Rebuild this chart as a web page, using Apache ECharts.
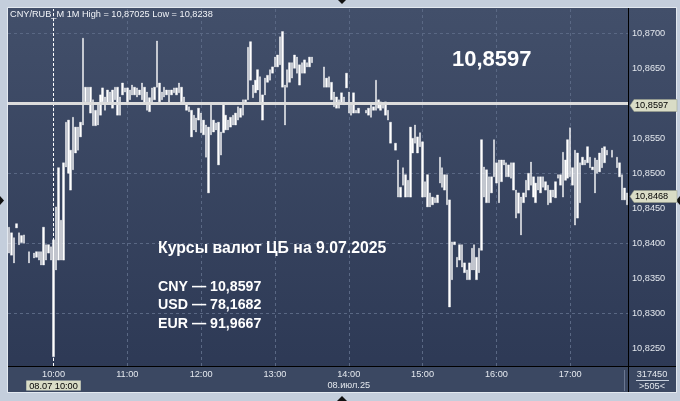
<!DOCTYPE html>
<html><head><meta charset="utf-8">
<script src="https://cdn.jsdelivr.net/npm/echarts@6/dist/echarts.min.js"></script>
<style>html,body{margin:0;padding:0;background:#c4cedc}#c{width:680px;height:401px}</style>
</head><body><div id="c"></div><script>
// ---- data ----
const startMinute = 9 * 60 + 24;   // first bar 09:24
const stepMinutes = 2;
const barCount = 252;
const highs = [
10.8423,10.8415,10.8408,10.8428,10.8415,10.8411,10.8412,null,10.8388,null,
10.8386,10.8388,10.8388,10.8388,10.8423,10.8398,10.8398,10.8395,10.8405,10.8452,
10.8508,10.8433,10.8515,10.8573,10.8576,10.8533,10.8580,10.8566,10.8566,10.8573,
10.8693,10.8623,10.8623,10.8623,10.8605,10.8590,10.8600,10.8612,10.8622,10.8609,
10.8619,10.8616,10.8619,10.8623,10.8623,10.8609,10.8629,10.8622,10.8622,10.8619,
10.8626,10.8623,10.8622,10.8619,10.8629,10.8623,10.8616,10.8608,10.8622,10.8623,
10.8689,10.8629,10.8616,10.8623,10.8619,10.8619,10.8619,10.8622,10.8622,10.8629,
10.8623,10.8609,10.8598,10.8595,10.8590,10.8583,10.8579,10.8593,10.8586,10.8576,
10.8569,10.8566,10.8600,10.8576,10.8572,10.8573,10.8559,10.8600,10.8583,10.8576,
10.8580,10.8583,10.8586,10.8595,10.8593,10.8605,10.8605,10.8680,10.8688,10.8626,
10.8633,10.8648,10.8638,10.8612,10.8636,10.8640,10.8648,10.8652,10.8666,10.8669,
10.8695,10.87025,10.8626,10.8648,10.8658,10.8658,10.8669,10.8666,10.8655,10.8658,
10.8662,10.8658,10.8666,10.8666,null,null,null,null,10.8652,10.8636,
10.8638,10.8630,10.8616,10.8609,10.8605,10.8615,10.8609,10.8643,10.8616,10.8600,
10.8615,10.8590,10.8593,null,null,10.8590,10.8593,10.8600,10.8595,10.8633,
10.8605,10.8602,10.8600,10.8602,10.8590,10.8573,null,10.8543,10.8519,10.8480,
10.8508,10.8498,10.8490,10.8566,10.8550,10.8569,10.8552,10.8558,10.8545,10.8488,
10.8498,10.8472,10.8466,10.8465,10.8469,10.8523,10.8508,10.8498,10.8498,10.8462,
10.8402,10.8402,10.8380,10.8398,10.8398,10.8372,10.8362,10.8372,10.8393,10.8398,
10.8380,10.8393,10.8548,10.8509,10.8505,10.8495,10.8495,10.8548,10.8515,10.8519,
10.8519,10.8519,10.8515,10.8512,10.8515,10.8515,10.8476,10.8472,10.8466,10.8472,
10.8490,10.8500,10.8516,10.8495,10.8486,10.8495,10.8495,10.8495,10.8488,10.8483,
10.8476,10.8476,10.8488,10.8498,10.8498,10.8530,10.8519,10.8548,10.8565,10.8508,
10.8533,10.8529,10.8515,10.8523,10.8519,10.8538,10.8523,10.8509,10.8522,10.8519,
10.8529,10.8536,10.8538,10.8533,null,10.8533,null,10.8523,10.8515,10.8498,
10.8479,10.8472
];
const lows = [
10.8386,10.8383,10.8372,10.8422,10.8398,10.8401,10.8400,null,10.8372,null,
10.8379,10.8380,10.8376,10.8369,10.8369,10.8376,10.8386,10.8376,10.8238,10.8362,
10.8376,10.8376,10.8376,10.8509,10.8500,10.8476,10.8505,10.8529,10.8533,10.8552,
10.8569,10.8602,10.8598,10.8586,10.8568,10.8568,10.8569,10.8583,10.8602,10.8590,
10.8600,10.8602,10.8593,10.8605,10.8583,10.8583,10.8612,10.8616,10.8602,10.8605,
10.8612,10.8612,10.8609,10.8612,10.8605,10.8600,10.8590,10.8588,10.8600,10.8605,
10.8623,10.8602,10.8605,10.8609,10.8612,10.8602,10.8612,10.8615,10.8612,10.8615,
10.8602,10.8600,10.8590,10.8588,10.8552,10.8562,10.8559,10.8576,10.8558,10.8555,
10.8523,10.8472,10.8555,10.8559,10.8562,10.8512,10.8526,10.8558,10.8562,10.8562,
10.8566,10.8569,10.8569,10.8576,10.8580,10.8583,10.8602,10.8605,10.8633,10.8608,
10.8615,10.8619,10.8602,10.8576,10.8612,10.8630,10.8633,10.8643,10.8652,10.8652,
10.8655,10.8623,10.8569,10.8623,10.8630,10.8636,10.8650,10.8643,10.8626,10.8643,
10.8643,10.8652,10.8652,10.8658,null,null,null,null,10.8623,10.8623,
10.8623,10.8605,10.8595,10.8593,10.8593,10.8600,10.8598,10.8622,10.8586,10.8583,
10.8586,10.8586,10.8586,null,null,10.8586,10.8583,10.8580,10.8590,10.8590,
10.8593,10.8590,10.8593,10.8583,10.8576,10.8543,null,10.8533,10.8466,10.8466,
10.8483,10.8466,10.8466,10.8466,10.8529,10.8543,10.8529,10.8538,10.8466,10.8466,
10.8452,10.8452,10.8455,10.8458,10.8458,10.8486,10.8480,10.8476,10.8455,10.8309,
10.8348,10.8398,10.8366,10.8376,10.8366,10.8358,10.8348,10.8348,10.8362,10.8362,
10.8348,10.8358,10.8390,10.8466,10.8458,10.8458,10.8472,10.8495,10.8486,10.8458,
10.8488,10.8512,10.8495,10.8495,10.8493,10.8476,10.8436,10.8443,10.8412,10.8458,
10.8466,10.8476,10.8483,10.8466,10.8458,10.8476,10.8472,10.8480,10.8476,10.8455,
10.8458,10.8466,10.8465,10.8493,10.8483,10.8466,10.8490,10.8493,10.8495,10.8483,
10.8426,10.8436,10.8458,10.8512,10.8512,10.8515,10.8508,10.8505,10.8472,10.8500,
10.8502,10.8508,10.8515,10.8526,null,10.8523,null,10.8508,10.8495,10.8462,
10.8462,10.8455
];
const hourLabels = ['10:00','11:00','12:00','13:00','14:00','15:00','16:00','17:00'];
const yTicks = [10.825,10.830,10.835,10.840,10.845,10.850,10.855,10.865,10.870];
const yMin = 10.82247, yMax = 10.87347;
const currentPrice = 10.8597;
const lastPrice = 10.8468;
const dayHigh = '10,87025', dayLow = '10,8238';
const cursorTime = '10:00', cursorLabel = '08.07 10:00', dateLabel = '08.июл.25';
const cbTitle = 'Курсы валют ЦБ на 9.07.2025';
const cbRates = [['CNY','10,8597'],['USD','78,1682'],['EUR','91,9667']];
const volumeText = '317450', countText = '>505<';

// ---- build ----
const categories = [];
for (let i = 0; i < barCount; i++) {
  const m = startMinute + i * stepMinutes;
  categories.push(String(Math.floor(m / 60)).padStart(2, '0') + ':' + String(m % 60).padStart(2, '0'));
}
const candles = highs.map((h, i) => h == null ? ['-','-','-','-'] : [lows[i], h, lows[i], h]);
const fmt = v => v.toFixed(4).replace('.', ',');
const FONT = '"Liberation Sans", Arial, sans-serif';
const small = 9.2;
const txtCol = '#e4e8ee';
const boxCol = '#d9dcc6';
const barCol = '#ffffff';

const chart = echarts.init(document.getElementById('c'), null, {renderer: 'canvas'});
const gridLines = [];
yTicks.forEach(v => gridLines.push({yAxis: v}));
hourLabels.forEach(h => gridLines.push({xAxis: h}));

chart.setOption({
  animation: false,
  backgroundColor: '#c4cedc',
  textStyle: {fontFamily: FONT},
  grid: {left: 8, right: 52, top: 9, bottom: 35},
  xAxis: {
    type: 'category', data: categories, boundaryGap: true,
    axisLine: {show: false}, axisTick: {show: false}, splitLine: {show: false},
    axisLabel: {
      interval: (i, v) => hourLabels.includes(v),
      color: txtCol, fontSize: small, margin: 3, lineHeight: 11,
      formatter: v => v === cursorTime ? v + '\n{box|' + cursorLabel + '}' :
                      v === '14:00' ? v + '\n' + dateLabel : v,
      rich: {box: {backgroundColor: boxCol, color: '#000', fontSize: small, padding: [1, 3, 0, 3], lineHeight: 11}}
    }
  },
  yAxis: {
    type: 'value', position: 'right', min: yMin, max: yMax, scale: true,
    axisLabel: {show: false}, splitLine: {show: false}, axisLine: {show: false}, axisTick: {show: false}
  },
  series: [
    {
      type: 'line', data: categories.map(() => '-'), silent: true, z: 1,
      markLine: {
        silent: true, z: 1, symbol: 'none', animation: false,
        lineStyle: {color: '#5a6884', type: [3, 3], width: 1},
        label: {show: false}, emphasis: {disabled: true},
        data: gridLines
      }
    },
    {
      type: 'candlestick', data: candles, barWidth: 2, z: 3,
      itemStyle: {color: barCol, color0: barCol, borderColor: barCol, borderColor0: barCol, borderWidth: 0.4},
      markLine: {
        silent: true, z: 6, symbol: 'none', animation: false,
        label: {show: false}, emphasis: {disabled: true},
        data: [
          {xAxis: cursorTime, lineStyle: {color: '#ffffff', type: [3, 2], width: 1}},
          {yAxis: currentPrice, lineStyle: {color: '#dcdcdc', type: 'solid', width: 3}}
        ]
      }
    }
  ]
});

// labels on the right price scale, placed through the chart's own y scale
const yPix = v => chart.convertToPixel({yAxisIndex: 0}, v);
const priceBox = v => {
  const y = Math.round(yPix(v)) + 0.5;
  return [
    {type: 'polygon', z: 30, shape: {points: [[630, y], [634, y - 6], [677, y - 6], [677, y + 6], [634, y + 6]]},
     style: {fill: boxCol, stroke: '#9aa08a', lineWidth: 0.5}},
    {type: 'text', z: 31, style: {x: 635, y: y, text: fmt(v), font: small + 'px ' + FONT, fill: '#000', textVerticalAlign: 'middle'}}
  ];
};
const tickTexts = yTicks.map(v => ({type: 'text', z: 20,
  style: {x: 632, y: yPix(v), text: fmt(v), font: small + 'px ' + FONT, fill: txtCol, textVerticalAlign: 'middle'}}));
const rateTexts = cbRates.map((r, i) => ({
  type: 'text', z: 20, style: {x: 158, y: 287 + i * 18.5, text: r[0] + ' — ' + r[1],
  font: 'bold 14.2px ' + FONT, fill: '#ffffff', textVerticalAlign: 'middle'}
}));

chart.setOption({
  graphic: [
    {type: 'rect', z: -10, shape: {x: 8, y: 8, width: 668, height: 384},
     style: {fill: new echarts.graphic.LinearGradient(0, 0, 0, 1, [{offset: 0, color: '#424f6a'}, {offset: 1, color: '#2c3854'}])}},
    {type: 'rect', z: -9, shape: {x: 8, y: 366, width: 668, height: 26}, style: {fill: '#3b4862'}},
    {type: 'rect', z: -8, shape: {x: 7.5, y: 7.5, width: 669, height: 385}, style: {fill: null, stroke: '#e3e9f0', lineWidth: 1}},
    {type: 'line', z: 10, shape: {x1: 628.5, y1: 8, x2: 628.5, y2: 392}, style: {stroke: '#000', lineWidth: 1}},
    {type: 'line', z: 10, shape: {x1: 8, y1: 366.5, x2: 676, y2: 366.5}, style: {stroke: '#000', lineWidth: 1}},
    {type: 'line', z: 10, shape: {x1: 624.5, y1: 370, x2: 624.5, y2: 391}, style: {stroke: '#6b7791', lineWidth: 1}},
    {type: 'line', z: 10, shape: {x1: 636, y1: 380.5, x2: 669, y2: 380.5}, style: {stroke: '#c8d0dc', lineWidth: 1}},
    {type: 'polygon', z: 10, shape: {points: [[338, 0], [346, 0], [342, 4]]}, style: {fill: '#111'}},
    {type: 'polygon', z: 10, shape: {points: [[337, 401], [347, 401], [342, 396]]}, style: {fill: '#111'}},
    {type: 'polygon', z: 10, shape: {points: [[0, 196], [0, 205], [4, 200.5]]}, style: {fill: '#111'}},
    {type: 'polygon', z: 10, shape: {points: [[680, 196], [680, 205], [676, 200.5]]}, style: {fill: '#111'}},
    {type: 'text', z: 20, style: {x: 10, y: 14, text: 'CNY/RUB_M 1M High = ' + dayHigh + ' Low = ' + dayLow,
      font: small + 'px ' + FONT, fill: '#f2f4f8', textVerticalAlign: 'middle'}},
    {type: 'text', z: 20, style: {x: 452, y: 60, text: fmt(currentPrice), font: 'bold 22px ' + FONT, fill: '#ffffff', textVerticalAlign: 'middle'}},
    {type: 'text', z: 20, style: {x: 158, y: 249, text: cbTitle, font: 'bold 15.8px ' + FONT, fill: '#ffffff', textVerticalAlign: 'middle'}},
    ...rateTexts,
    ...tickTexts,
    ...priceBox(currentPrice),
    ...priceBox(lastPrice),
    {type: 'text', z: 20, style: {x: 652, y: 374, text: volumeText, font: small + 'px ' + FONT, fill: txtCol, textAlign: 'center', textVerticalAlign: 'middle'}},
    {type: 'text', z: 20, style: {x: 652, y: 386.5, text: countText, font: small + 'px ' + FONT, fill: txtCol, textAlign: 'center', textVerticalAlign: 'middle'}}
  ]
});
</script></body></html>
